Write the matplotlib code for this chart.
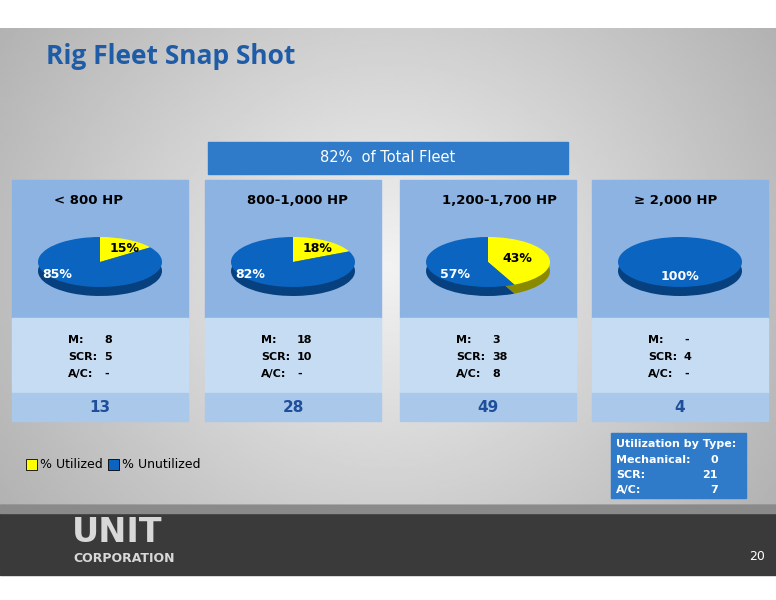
import numpy as np
import matplotlib.pyplot as plt
from matplotlib.patches import Rectangle

# --- DATA ---
categories = ['< 800 HP', '800-1,000 HP', '1,200-1,700 HP', '\u2265 2,000 HP']
pct_utilized = [15, 18, 43, 0]
mech = ['8', '18', '3', '-']
scr = ['5', '10', '38', '4']
ac = ['-', '-', '8', '-']
totals = [13, 28, 49, 4]
fleet_label = '82%  of Total Fleet'
util_by_type = [('Mechanical:', 0), ('SCR:', 21), ('A/C:', 7)]

YELLOW = '#FFFF00'
BLUE = '#0A64C0'
DARK_BLUE = '#06407E'
TITLE = '#1F5CA8'

W, H = 776, 600
fig = plt.figure(figsize=(W / 100, H / 100), dpi=100)
bg = fig.add_axes([0, 0, 1, 1])
bg.set_xlim(0, W)
bg.set_ylim(H, 0)
bg.axis('off')

# slide background gradient (light centre, grey edges)
gx = np.linspace(-1, 1, 300)
gy = np.linspace(-1, 1, 200)
gxx, gyy = np.meshgrid(gx, gy)
img = 0.95 - 0.22 * np.sqrt(gxx ** 2 * 0.9 + gyy ** 2 * 0.4)
bg.imshow(img, extent=[0, W, 505, 28], cmap='gray', vmin=0, vmax=1, aspect='auto')
bg.add_patch(Rectangle((0, 505), W, 70, color='#3a3a3a'))
bg.add_patch(Rectangle((0, 505), W, 8, color='#8a8a8a'))

fg = fig.add_axes([0, 0, 1, 1], zorder=10)
fg.set_xlim(0, W)
fg.set_ylim(H, 0)
fg.axis('off')
fg.patch.set_alpha(0)

fg.text(46, 56, 'Rig Fleet Snap Shot', fontsize=19, fontweight='bold', color=TITLE,
        va='center', family='Open Sans')

bg.add_patch(Rectangle((208, 142), 360, 32, color='#2F7BC9'))
bg.text(388, 158, fleet_label, color='white', fontsize=10.5, ha='center', va='center')

lefts = [12, 205, 400, 592]
pw = 176
for i, x in enumerate(lefts):
    bg.add_patch(Rectangle((x, 180), pw, 138, color='#8DB3E2'))
    bg.add_patch(Rectangle((x, 318), pw, 75, color='#C6DCF2'))
    bg.add_patch(Rectangle((x, 393), pw, 28, color='#A9C8EA'))
    bg.text(x + 42, 200, categories[i], fontsize=9.5, fontweight='bold', va='center')
    for j, (lab, val) in enumerate([('M:', mech[i]), ('SCR:', scr[i]), ('A/C:', ac[i])]):
        y = 340 + j * 17
        bg.text(x + 56, y, lab, fontsize=8, fontweight='bold', va='center')
        bg.text(x + 92, y, val, fontsize=8, fontweight='bold', va='center')
    bg.text(x + pw / 2, 407, str(totals[i]), fontsize=11, fontweight='bold',
            color='#1F4E9A', ha='center', va='center')

    # pie (flattened, with depth)
    cx, cy = x + 88, 262
    pwid, phgt = 124, 50
    for dy, cols in [(9, ['#8a8a00', DARK_BLUE]), (0, [YELLOW, BLUE])]:
        ax = fig.add_axes([(cx - pwid / 2) / W, 1 - (cy + dy + phgt / 2) / H, pwid / W, phgt / H])
        vals = [pct_utilized[i], 100 - pct_utilized[i]]
        ax.pie(vals, colors=cols, startangle=90, counterclock=False, radius=1.0,
               wedgeprops=dict(linewidth=0))
        ax.set_xlim(-1, 1)
        ax.set_ylim(-1, 1)
        ax.set_aspect('auto')
        ax.axis('off')
    u = pct_utilized[i]
    if u > 0:
        if u < 40:
            fg.text(cx + 25, cy - 14, f'{u}%', fontsize=9, fontweight='bold', ha='center', va='center')
            fg.text(cx - 43, cy + 12, f'{100 - u}%', fontsize=9, fontweight='bold',
                    color='white', ha='center', va='center')
        else:
            fg.text(cx + 29, cy - 3, f'{u}%', fontsize=9, fontweight='bold', ha='center', va='center')
            fg.text(cx - 33, cy + 12, f'{100 - u}%', fontsize=9, fontweight='bold',
                    color='white', ha='center', va='center')
    else:
        fg.text(cx, cy + 14, '100%', fontsize=9, fontweight='bold', color='white',
                ha='center', va='center')

# legend
bg.add_patch(Rectangle((26, 459), 11, 11, facecolor=YELLOW, edgecolor='black', lw=0.6))
bg.text(40, 465, '% Utilized', fontsize=9, va='center')
bg.add_patch(Rectangle((108, 459), 11, 11, facecolor=BLUE, edgecolor='black', lw=0.6))
bg.text(122, 465, '% Unutilized', fontsize=9, va='center')

# utilization box
bg.add_patch(Rectangle((611, 433), 135, 65, color='#2F7BC9'))
bg.text(616, 444, 'Utilization by Type:', fontsize=8, fontweight='bold', color='white', va='center')
for j, (lab, val) in enumerate(util_by_type):
    y = 460 + j * 15
    bg.text(616, y, lab, fontsize=8, fontweight='bold', color='white', va='center')
    bg.text(718, y, str(val), fontsize=8, fontweight='bold', color='white', va='center', ha='right')

# logo + page number
bg.text(72, 533, 'UNIT', fontsize=24, fontweight='bold', color='#d8d8d8', va='center')
bg.text(73, 558, 'CORPORATION', fontsize=9, fontweight='bold', color='#d8d8d8', va='center')
bg.text(765, 556, '20', fontsize=9, color='white', ha='right', va='center')

fig.savefig('out.png', dpi=100)
